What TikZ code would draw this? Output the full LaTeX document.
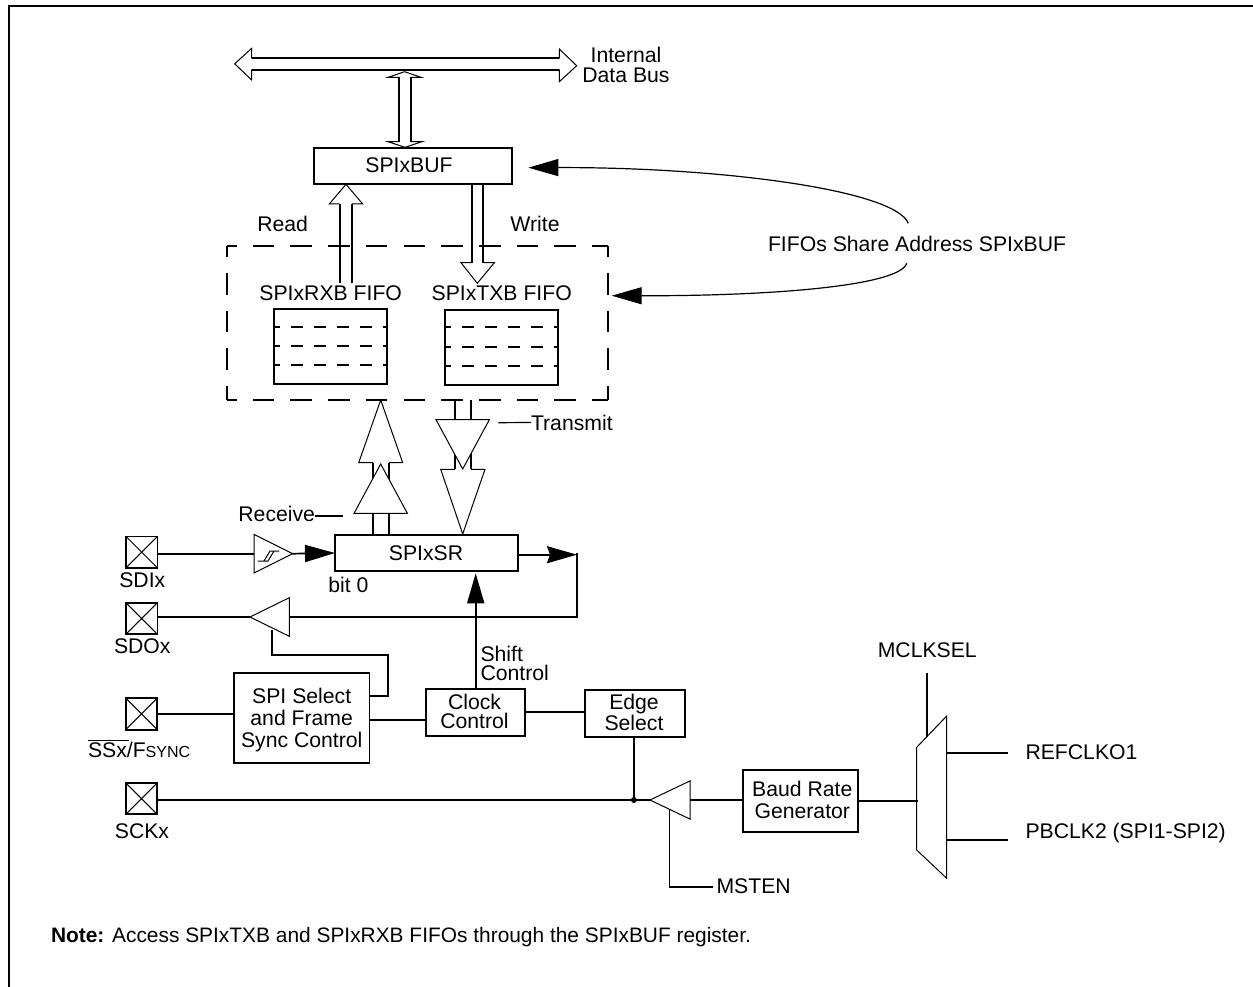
\documentclass[tikz,border=0pt]{standalone}
\usepackage{fontspec}
\setmainfont{Liberation Sans}
\usetikzlibrary{arrows.meta,shapes.geometric}
\tikzset{
  x=1pt,y=-1pt,
  every node/.style={font=\fontsize{21.2}{21}\selectfont,inner sep=0pt,outer sep=0pt,align=center},
  lh/.style={font=\fontsize{21.2}{#1}\selectfont},
  wire/.style={line width=1.7pt},
  leader/.style={line width=1.2pt},
  regbox/.style={draw,line width=1.7pt,rectangle},
  padbox/.style={draw,line width=1.9pt,rectangle,minimum width=31.5pt,minimum height=31.5pt},
  buf/.style={draw,fill=white,line width=1pt,isosceles triangle,isosceles triangle stretches,anchor=apex},
  dashside/.style={line width=1.7pt,dash pattern=on 21.6pt off 16.1pt},
  fifoline/.style={line width=1.7pt,dash pattern=on 12pt off 11pt,dash phase=6pt},
  hollow/.style={line width=1pt,fill=white},
  stem/.style={line width=1.7pt},
  blackhead/.style={-{Triangle[length=30pt,width=17pt]}},
  curvehead/.style={-{Stealth[length=30pt,width=17pt,inset=3pt]}},
}
\newcommand{\regnode}[5]{\node[regbox,minimum width={#4-#2},minimum height={#5-#3}] (#1) at ({(#2+#4)/2},{(#3+#5)/2}) {};}
\newcommand{\crossout}[1]{\draw[line width=1pt] (#1.north west) -- (#1.south east) (#1.north east) -- (#1.south west);}
\begin{document}
\begin{tikzpicture}
\useasboundingbox (0,0) rectangle (1253,987);
\draw[line width=2pt] (8.5,987) -- (8.5,6.5) -- (1253,6.5);

% internal data bus
\draw[hollow] (234.7,63.8) -- (251.7,48.3) -- (251.7,58) -- (559.3,58) -- (559.3,49) -- (576.7,65.7) -- (559.3,81.7) -- (559.3,70) -- (251.7,70) -- (251.7,80) -- cycle;
\draw[stem] (251.7,58) -- (559.3,58) (251.7,70) -- (559.3,70);
\node[lh=20pt] (busl) at (626,65) {Internal\\Data Bus};

% registers
\regnode{buf}{313.7}{147.7}{512}{184}
\node (bufl) at (409,165.5) {SPIxBUF};
\draw[hollow] (404.5,71.7) -- (421,77.3) -- (411,77.3) -- (411,141.7) -- (422,141.7) -- (405,147.3) -- (388,141.7) -- (399,141.7) -- (399,77.3) -- (388.3,77.3) -- cycle;
\draw[stem] (399,77.3) -- (399,141.7) (411,77.3) -- (411,141.7);

% fifo group
\node[minimum width=381.3pt,minimum height=154.3pt] (grp) at (417.65,322.85) {};
\draw[dashside,dash phase=12pt] (grp.north west) -- (grp.north east);
\draw[dashside,dash phase=12pt] (grp.south west) -- (grp.south east);
\draw[dashside,dash phase=10.5pt] (grp.north west) -- (grp.south west);
\draw[dashside,dash phase=10.5pt] (grp.north east) -- (grp.south east);

\node (rd) at (282.7,223.5) {Read};
\node (wr) at (535,223.5) {Write};
\node (rxl) at (330.7,293.5) {SPIxRXB FIFO};
\node (txl) at (501.7,293.5) {SPIxTXB FIFO};

\node[regbox,minimum width=113.3pt,minimum height=75.3pt] (rxf) at (330.35,346.35) {};
\node[regbox,minimum width=113.3pt,minimum height=75pt] (txf) at (501.65,347.5) {};
\foreach \yy in {326.7,345.7,364.7} \draw[fifoline] (273.7,\yy) -- (388,\yy);
\foreach \yy in {326.7,346.7,366} \draw[fifoline] (445,\yy) -- (559,\yy);

% read / write arrows
\draw[stem] (339.7,283.3) -- (339.7,204) (352,283.3) -- (352,204);
\draw[line width=1pt] (339.7,204) -- (329.3,204) -- (346,184.3) -- (362.7,204) -- (352,204);
\draw[stem] (471.7,184) -- (471.7,262.7) (483.3,184) -- (483.3,262.7);
\draw[line width=1pt] (471.7,262.7) -- (461,262.7) -- (477.3,283.3) -- (494.3,262.7) -- (483.3,262.7);

% shift register
\regnode{sr}{335}{535}{517.7}{571}
\node (srl) at (426,553.5) {SPIxSR};
\node (bit) at (348.3,584.5) {bit 0};

% receive path
\draw[stem] (373,535) -- (373,462.7) (389,535) -- (389,462.7);
\draw[line width=1pt] (373,462.7) -- (358.7,462.7) -- (380.7,400) -- (402.7,462.7) -- (389,462.7);
\node[buf,shape border rotate=90,minimum width=53.3pt,minimum height=49.3pt] (rxbuf) at (380.7,464) {};
\node (rcv) at (276.7,513.5) {Receive};
\coordinate (rcvend) at (342.7,516);
\draw[leader] (rcv.east |- rcvend) -- (rcvend);

% transmit path
\draw[stem] (455,400) -- (455,469.3) (471,400) -- (471,469.3);
\draw[line width=1pt] (455,469.3) -- (440.7,469.3) -- (462.7,534) -- (485,469.3) -- (471,469.3);
\node[buf,shape border rotate=-90,minimum width=53.3pt,minimum height=49.3pt] (txbuf) at (462.7,469) {};
\node[anchor=west] (xmt) at (531,422.5) {Transmit};
\coordinate (xmtend) at (498.3,422.7);
\draw[leader] (xmt.west) -- (xmtend);

% SDI
\node[padbox] (sdi) at (141.7,552.2) {}; \crossout{sdi}
\node (sdil) at (142.3,580.5) {SDIx};
\node[buf,minimum width=38.7pt,minimum height=38.7pt] (sbuf) at (292.7,553.7) {};
\draw[line width=1pt] (257.5,561) -- (268,561) -- (274,551) (264,561) -- (270,551) -- (279,551);
\draw[wire] (sdi.east |- sbuf.apex) -- (254,553.7);
\draw[wire,blackhead] (sbuf.apex) -- (sr.west);

% SDO
\node[padbox] (sdo) at (141.7,618.5) {}; \crossout{sdo}
\node (sdol) at (142.3,646) {SDOx};
\node[buf,shape border rotate=180,minimum width=38.7pt,minimum height=39.4pt] (obuf) at (250,617) {};
\coordinate (lp) at (577,617);
\draw[wire] (obuf.apex) -- (sdo.east |- obuf.apex);
\draw[wire] (obuf.lower side) -- (lp) -- (lp |- sr.east);
\draw[wire,curvehead] (sr.east |- 0,554.7) -- (577,554.7);

% select
\regnode{sel}{234}{673.3}{369.4}{762.7}
\node[lh=22pt] (sell) at (301.7,720) {SPI Select\\and Frame\\Sync Control};
\node[padbox] (ss) at (141.5,713.8) {}; \crossout{ss}
\node[anchor=west] (ssl) at (88,749) {\rlap{\rule[16.5pt]{40.5pt}{1.5pt}}SSx/F{\fontsize{16}{16}\selectfont SYNC}};
\draw[wire] (ss.east) -- (sel.west |- ss.east);
\coordinate (enx) at (387.8,655);
\draw[wire] (sel.east |- 0,696) -- (387.8,696) -- (enx) -- (272,655) -- (272,630);

% clock
\regnode{clk}{425.7}{689}{525}{736}
\node[lh=19pt] (clkl) at (474.5,711) {Clock\\Control};
\regnode{edg}{585}{690}{685}{736.7}
\node[lh=19pt] (edgl) at (634,712.5) {Edge\\Select};
\draw[wire] (sel.east |- 0,720) -- (clk.west |- 0,720);
\draw[wire] (clk.east |- 0,711.7) -- (edg.west |- 0,711.7);
\coordinate (shiftb) at (475.7,689);
\draw[wire,blackhead] (shiftb) -- (475.7,573.3);
\node[anchor=west,align=left,lh=19pt] (shl) at (480.5,663) {Shift\\Control};

% SCK
\node[padbox] (sck) at (141.5,798.6) {}; \crossout{sck}
\node (sckl) at (142,831) {SCKx};
\node[buf,shape border rotate=180,minimum width=38.2pt,minimum height=40pt] (cbuf) at (650,800) {};
\draw[wire] (sck.east |- cbuf.apex) -- (cbuf.apex);
\coordinate (jn) at (633.9,800);
\draw[wire] (edg.south -| jn) -- (jn);
\fill (jn) circle (3pt);

% baud rate
\regnode{brg}{742.7}{770}{858.3}{832.3}
\node[lh=22pt] (brgl) at (802.3,800) {Baud Rate\\Generator};
\draw[wire] (cbuf.lower side) -- (brg.west |- cbuf.lower side);
\node[anchor=west] (ms) at (716.5,886) {MSTEN};
\coordinate (mscorner) at (669.5,886.7);
\draw[wire] (669.5,810) -- (mscorner) -- (712.7,886.7);

% mux
\draw[line width=1pt,fill=white] (916.7,747.3) -- (946.7,716) -- (946.7,878.3) -- (916.7,850) -- cycle;
\coordinate (muxin) at (918.3,800.7);
\draw[wire] (brg.east |- muxin) -- (muxin);
\node (mcl) at (927.3,650) {MCLKSEL};
\draw[wire] (926.7,672.7) -- (926.7,737);
\node[anchor=west] (ref) at (1025.5,752.5) {REFCLKO1};
\node[anchor=west] (pb) at (1025.5,833) {PBCLK2 (SPI1-SPI2)};
\draw[wire] (946.7,752.7) -- (1008.3,752.7);
\draw[wire] (946.7,840) -- (1008.3,840);

% shared address curves
\node[anchor=west] (share) at (768,243.5) {FIFOs Share Address SPIxBUF};
\coordinate (upstart) at (908.3,223.3);
\coordinate (lowstart) at (906.7,263.3);
\draw[leader,-{Triangle[length=30pt,width=17pt]}] (upstart) .. controls (895,190) and (720,167) .. (528.3,167.7);
\draw[leader,-{Triangle[length=30pt,width=17pt]}] (lowstart) .. controls (900,285) and (780,296) .. (611.7,295.7);

% note
\node[anchor=west] (note) at (51,937.5) {\fontsize{20.9}{21}\selectfont\textbf{Note:} Access SPIxTXB and SPIxRXB FIFOs through the SPIxBUF register.};
\end{tikzpicture}
\end{document}
